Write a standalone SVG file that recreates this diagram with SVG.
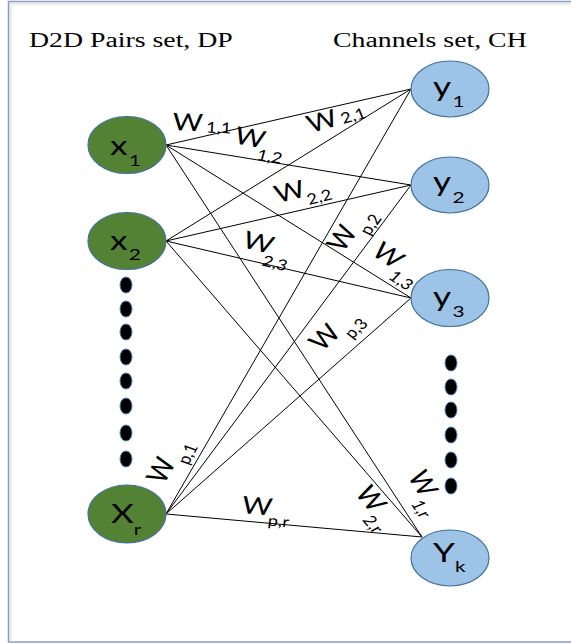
<svg xmlns="http://www.w3.org/2000/svg" width="571" height="644" viewBox="0 0 571 644">
  <defs>
    <style>
      .frame{fill:#fff;stroke:#8a9bc7;stroke-width:1.5}
      .title{font-family:"Liberation Serif","Times New Roman",serif;font-size:20px;fill:#000}
      .dp ellipse{fill:#548235;stroke:#41719c;stroke-width:1.2}
      .ch ellipse{fill:#9dc3e6;stroke:#41719c;stroke-width:1.2}
      .lbl{font-family:Lato,"Open Sans",sans-serif;font-size:27px;fill:#000}
      .lbl .s{font-size:16px}
      .w{font-family:Lato,"Open Sans",sans-serif;font-size:24px;fill:#000}
      .w .s{font-size:15px}
      .dot{fill:#000;stroke:#4f81bd;stroke-width:1}
      #links line{stroke:#000;stroke-width:1}
    </style>
    <linearGradient id="shadeL" x1="0" y1="0" x2="1" y2="0">
      <stop offset="0" stop-color="#d8d8d8"/>
      <stop offset="1" stop-color="#fff" stop-opacity="0"/>
    </linearGradient>
    <linearGradient id="shadeT" x1="0" y1="0" x2="0" y2="1">
      <stop offset="0" stop-color="#d8d8d8"/>
      <stop offset="1" stop-color="#fff" stop-opacity="0"/>
    </linearGradient>
  </defs>

  <rect width="571" height="644" fill="#fff"/>
  <!-- frame with soft inner shadow -->
  <rect class="frame" x="8.5" y="1.5" width="600" height="640.5"/>
  <rect x="9.3" y="2.3" width="5" height="639" fill="url(#shadeL)"/>
  <rect x="9.3" y="2.3" width="600" height="5" fill="url(#shadeT)"/>

  <!-- set headings -->
  <text class="title" transform="translate(29,47) scale(1.39,1)">D2D Pairs set, DP</text>
  <text class="title" transform="translate(333,47) scale(1.39,1)">Channels set, CH</text>

  <!-- weighted links between pairs and channels -->
  <g id="links">
    <line x1="166" y1="145" x2="411" y2="89"/>
    <line x1="166" y1="145" x2="411" y2="185"/>
    <line x1="166" y1="145" x2="411" y2="298"/>
    <line x1="166" y1="145" x2="422" y2="537"/>
    <line x1="166" y1="241" x2="411" y2="89"/>
    <line x1="166" y1="241" x2="411" y2="185"/>
    <line x1="166" y1="241" x2="411" y2="298"/>
    <line x1="166" y1="241" x2="422" y2="537"/>
    <line x1="166" y1="514" x2="411" y2="89"/>
    <line x1="166" y1="514" x2="411" y2="185"/>
    <line x1="166" y1="514" x2="411" y2="298"/>
    <line x1="166" y1="514" x2="422" y2="537"/>

    <g id="link-labels">
      <text class="w" transform="translate(172,130) scale(1.22,1) rotate(3)">W<tspan class="s" dx="3" dy="1">1,1</tspan></text>
      <text class="w" transform="translate(233,143) scale(1.22,1) rotate(12.6)">W<tspan class="s" dx="-3" dy="12">1,2</tspan></text>
      <text class="w" transform="translate(311,133) scale(1.22,1) rotate(-18.8)">W<tspan class="s" dx="3" dy="0">2,1</tspan></text>
      <text class="w" transform="translate(278,203) scale(1.22,1) rotate(-16.3)">W<tspan class="s" dx="-1" dy="9">2,2</tspan></text>
      <text class="w" transform="translate(241,247) scale(1.22,1) rotate(16.3)">W<tspan class="s" dx="-4" dy="13">2,3</tspan></text>
      <text class="w" transform="translate(343,253) scale(1.22,1) rotate(-59.3)">W<tspan class="s" dx="1" dy="10">p,2</tspan></text>
      <text class="w" transform="translate(370,254) scale(1.22,1) rotate(38.4)">W<tspan class="s" dx="1" dy="10">1,3</tspan></text>
      <text class="w" transform="translate(322,352) scale(1.22,1) rotate(-47.8)">W<tspan class="s" dx="1" dy="10">p,3</tspan></text>
      <text class="w" transform="translate(164,485) scale(1.22,1) rotate(-65.6)">W<tspan class="s" dx="1" dy="10">p,1</tspan></text>
      <text class="w" transform="translate(241,513) scale(1.22,1) rotate(6.3)">W<tspan class="s" dx="-2" dy="10">p,r</tspan></text>
      <text class="w" transform="translate(354,493) scale(1.22,1) rotate(55.6)">W<tspan class="s" dx="1" dy="10">2,r</tspan></text>
      <text class="w" transform="translate(407,476) scale(1.22,1) rotate(62.9)">W<tspan class="s" dx="1" dy="10">1,r</tspan></text>
    </g>
  </g>

  <!-- D2D pairs -->
  <g id="x1" class="dp">
    <ellipse cx="127" cy="145" rx="39" ry="28.5"/>
    <text class="lbl" transform="translate(110,155) scale(1.3,1)">x<tspan class="s" dx="1" dy="11">1</tspan></text>
  </g>
  <g id="x2" class="dp">
    <ellipse cx="127" cy="241" rx="39" ry="28.5"/>
    <text class="lbl" transform="translate(110,250) scale(1.3,1)">x<tspan class="s" dx="1" dy="10">2</tspan></text>
  </g>
  <g id="xr" class="dp">
    <ellipse cx="127" cy="514" rx="39" ry="29"/>
    <text class="lbl" transform="translate(111,523) scale(1.3,1)">X<tspan class="s" dx="0" dy="12">r</tspan></text>
  </g>

  <!-- channels -->
  <g id="y1" class="ch">
    <ellipse cx="450" cy="89" rx="39" ry="28"/>
    <text class="lbl" transform="translate(433,96) scale(1.3,1)">y<tspan class="s" dx="1" dy="11">1</tspan></text>
  </g>
  <g id="y2" class="ch">
    <ellipse cx="450" cy="185" rx="39" ry="28"/>
    <text class="lbl" transform="translate(433,191) scale(1.3,1)">y<tspan class="s" dx="1" dy="12">2</tspan></text>
  </g>
  <g id="y3" class="ch">
    <ellipse cx="450" cy="298" rx="39" ry="28.5"/>
    <text class="lbl" transform="translate(433,306) scale(1.3,1)">y<tspan class="s" dx="1" dy="11">3</tspan></text>
  </g>
  <g id="yk" class="ch">
    <ellipse cx="450" cy="558" rx="39" ry="28"/>
    <text class="lbl" transform="translate(433,562) scale(1.3,1)">Y<tspan class="s" dx="0" dy="10">k</tspan></text>
  </g>

  <!-- continuation dots -->
  <g id="dp-more">
    <ellipse class="dot" cx="126" cy="285" rx="6" ry="8"/>
    <ellipse class="dot" cx="126" cy="309" rx="6" ry="8"/>
    <ellipse class="dot" cx="126" cy="332" rx="6" ry="8"/>
    <ellipse class="dot" cx="126" cy="357" rx="6" ry="8"/>
    <ellipse class="dot" cx="126" cy="381" rx="6" ry="8"/>
    <ellipse class="dot" cx="126" cy="406" rx="6" ry="8"/>
    <ellipse class="dot" cx="126" cy="433" rx="6" ry="8"/>
    <ellipse class="dot" cx="126" cy="459" rx="6" ry="8"/>
  </g>
  <g id="ch-more">
    <ellipse class="dot" cx="451" cy="363" rx="6" ry="8"/>
    <ellipse class="dot" cx="451" cy="387" rx="6" ry="8"/>
    <ellipse class="dot" cx="451" cy="410" rx="6" ry="8"/>
    <ellipse class="dot" cx="451" cy="435" rx="6" ry="8"/>
    <ellipse class="dot" cx="451" cy="460" rx="6" ry="8"/>
    <ellipse class="dot" cx="451" cy="486" rx="6" ry="8"/>
  </g>
</svg>
